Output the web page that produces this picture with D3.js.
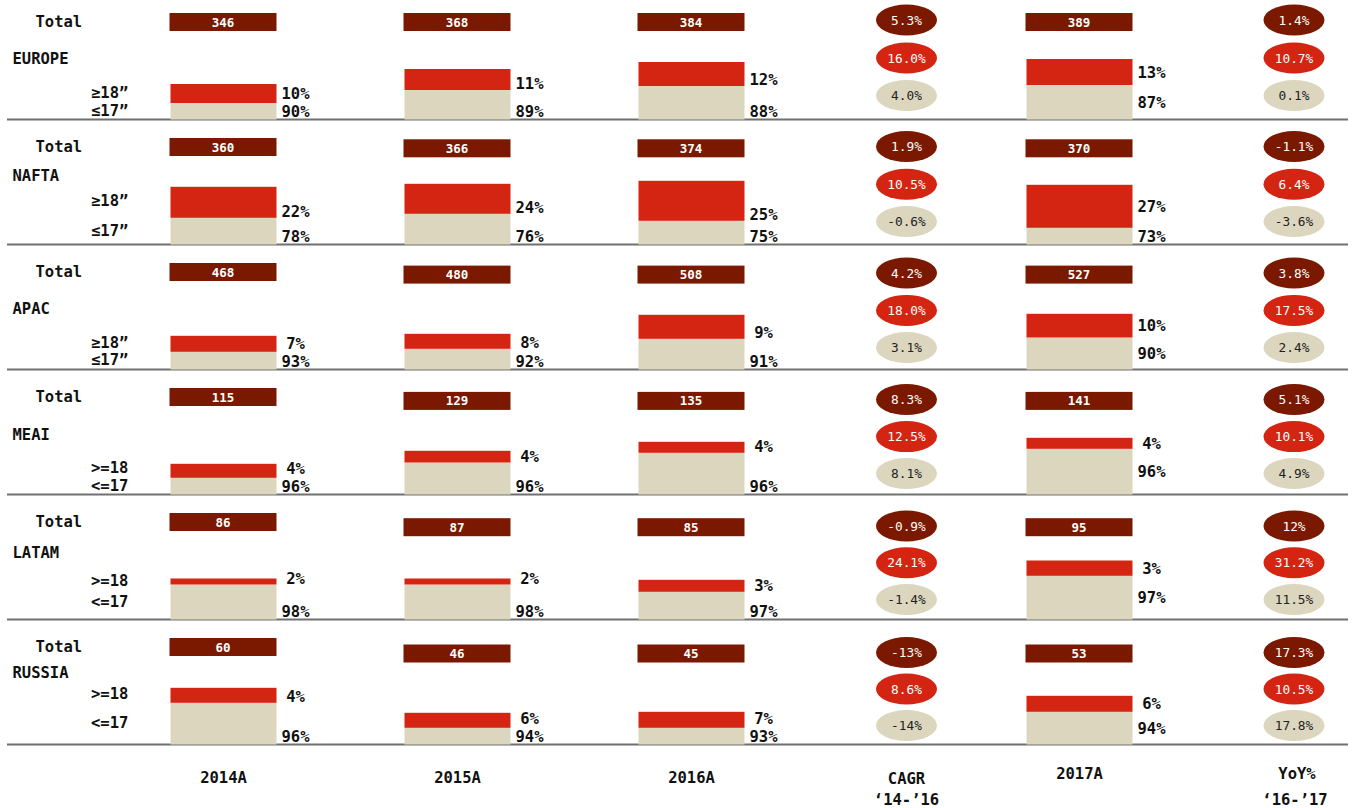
<!DOCTYPE html>
<html>
<head>
<meta charset="utf-8">
<script src="https://cdn.jsdelivr.net/npm/d3@7"></script>
<style>
  html, body { margin: 0; padding: 0; background: #fff; }
  svg { display: block; font-family: "DejaVu Sans Mono", monospace; }
</style>
</head>
<body>
<svg id="chart" width="1359" height="808"></svg>
<script>
// ---------- DATA ----------
const regions = ["EUROPE", "NAFTA", "APAC", "MEAI", "LATAM", "RUSSIA"];
const years = ["2014A", "2015A", "2016A", "2017A"];
const totals = [
  [346, 368, 384, 389],
  [360, 366, 374, 370],
  [468, 480, 508, 527],
  [115, 129, 135, 141],
  [86, 87, 85, 95],
  [60, 46, 45, 53]
];
const largeShare = [
  [10, 11, 12, 13],
  [22, 24, 25, 27],
  [7, 8, 9, 10],
  [4, 4, 4, 4],
  [2, 2, 3, 3],
  [4, 6, 7, 6]
];
const smallShare = [
  [90, 89, 88, 87],
  [78, 76, 75, 73],
  [93, 92, 91, 90],
  [96, 96, 96, 96],
  [98, 98, 97, 97],
  [96, 94, 93, 94]
];
// drawn segment heights (visual units)
const largeBarH = [
  [19, 21, 24, 26],
  [31, 30, 40, 43],
  [16, 15, 24, 23.7],
  [14, 11.7, 11, 11],
  [6, 6, 12, 15.3],
  [15, 15, 16, 16]
];
const smallBarH = [
  [16.5, 29.5, 33.5, 34.5],
  [26.7, 30.7, 23.7, 16.7],
  [17.7, 20.7, 30.7, 32],
  [16.7, 32, 41.7, 45.7],
  [35, 35, 27.7, 43.7],
  [41.7, 16.7, 16.7, 32.7]
];
const largeLabel = ["≥18”", "≥18”", "≥18”", ">=18", ">=18", ">=18"];
const smallLabel = ["≤17”", "≤17”", "≤17”", "<=17", "<=17", "<=17"];
const cagrTotal = ["5.3%", "1.9%", "4.2%", "8.3%", "-0.9%", "-13%"];
const cagrLarge = ["16.0%", "10.5%", "18.0%", "12.5%", "24.1%", "8.6%"];
const cagrSmall = ["4.0%", "-0.6%", "3.1%", "8.1%", "-1.4%", "-14%"];
const yoyTotal = ["1.4%", "-1.1%", "3.8%", "5.1%", "12%", "17.3%"];
const yoyLarge = ["10.7%", "6.4%", "17.5%", "10.1%", "31.2%", "10.5%"];
const yoySmall = ["0.1%", "-3.6%", "2.4%", "4.9%", "11.5%", "17.8%"];
const columns = ["2014A", "2015A", "2016A", "CAGR", "2017A", "YoY"];

// ---------- STYLE ----------
const C_TOTAL = "#7a1900";
const C_LARGE = "#d42412";
const C_SMALL = "#dcd6be";
const C_LINE = "#707070";
const C_TEXT = "#111111";
const MIN_SEP = 17.5;

const svg = d3.select("#chart");

// ---------- SCALES ----------
const xCol = d3.scaleOrdinal().domain(columns).range([223.5, 457.5, 691.5, 906.5, 1079.5, 1294]);
const yRow = d3.scaleBand().domain(regions).range([-5.5, 744.5]).paddingInner(0).paddingOuter(0);
const hScale = d3.scaleLinear().domain([0, 50]).range([0, 50]);
const barW = 106;
const base = r => yRow(r) + yRow.bandwidth();

// ---------- ROWS ----------
regions.forEach((reg, i) => {
  const g = svg.append("g");
  const yb = base(reg);

  // separator line
  g.append("line")
    .attr("x1", 7).attr("x2", 1348)
    .attr("y1", yb).attr("y2", yb)
    .attr("stroke", C_LINE).attr("stroke-width", 1.8);

  years.forEach((yr, j) => {
    const cx = xCol(yr);
    const hS = hScale(smallBarH[i][j]);
    const hL = hScale(largeBarH[i][j]);
    const split = yb - hS;

    // stacked bar
    g.append("rect").attr("x", cx - barW / 2).attr("y", split)
      .attr("width", barW).attr("height", hS).attr("fill", C_SMALL);
    g.append("rect").attr("x", cx - barW / 2).attr("y", split - hL)
      .attr("width", barW).attr("height", hL).attr("fill", C_LARGE);

    // total bar
    const lift = 106.5 - (j > 0 ? 1.3 * i : 0);
    g.append("rect").attr("x", cx - barW / 2 - 1).attr("y", yb - lift)
      .attr("width", barW + 1).attr("height", 18).attr("fill", C_TOTAL);
    g.append("text").attr("x", cx - 0.5).attr("y", yb - lift + 9)
      .attr("dy", "0.36em").attr("text-anchor", "middle")
      .attr("fill", "#fff").attr("font-weight", "bold").attr("font-size", 12.5)
      .text(totals[i][j]);

    // share labels (baselines)
    const lx = cx + barW / 2 + 19;
    let yUp, yLo;
    if (j < 3) {
      yLo = yb - 3;
      yUp = split - 1;
    } else {
      yLo = yb - hS / 2 + 5.5;
      yUp = split - hL / 2 + 5.5;
    }
    yUp = Math.min(yUp, yLo - MIN_SEP);
    g.append("text").attr("x", lx).attr("y", yUp)
      .attr("text-anchor", "middle").attr("font-weight", "bold")
      .attr("font-size", 15.5).attr("fill", C_TEXT)
      .text(largeShare[i][j] + "%");
    g.append("text").attr("x", lx).attr("y", yLo)
      .attr("text-anchor", "middle").attr("font-weight", "bold")
      .attr("font-size", 15.5).attr("fill", C_TEXT)
      .text(smallShare[i][j] + "%");
  });

  // left labels (centres)
  const hL0 = hScale(largeBarH[i][0]);
  const hS0 = hScale(smallBarH[i][0]);
  const ySmallLbl = yb - hS0 / 2 - 1;
  const yLargeLbl = Math.min(yb - hS0 - hL0 / 2 - 1.5, ySmallLbl - MIN_SEP);
  const yTotalLbl = yb - 98;
  const yRegionLbl = (yTotalLbl + yLargeLbl) / 2 + 2;

  const lbl = (x, y, t) => g.append("text").attr("x", x).attr("y", y).attr("dy", "0.36em")
    .attr("font-weight", "bold").attr("font-size", 15.5).attr("fill", C_TEXT).text(t);
  lbl(35.5, yTotalLbl, "Total");
  lbl(12.5, yRegionLbl, reg);
  lbl(91, yLargeLbl, largeLabel[i]);
  lbl(91, ySmallLbl, smallLabel[i]);

  // growth ellipses
  const ellY = [20 + 126.5 * i, 58 + 126.2 * i, 95.5 + 126 * i];
  const fills = [C_TOTAL, C_LARGE, C_SMALL];
  const tcol = ["#fff", "#fff", "#222"];
  const cagr = [cagrTotal[i], cagrLarge[i], cagrSmall[i]];
  const yoy = [yoyTotal[i], yoyLarge[i], yoySmall[i]];
  [["CAGR", cagr], ["YoY", yoy]].forEach(([col, vals]) => {
    vals.forEach((v, k) => {
      g.append("ellipse").attr("cx", xCol(col)).attr("cy", ellY[k])
        .attr("rx", 30.5).attr("ry", 15.5).attr("fill", fills[k]);
      g.append("text").attr("x", xCol(col)).attr("y", ellY[k]).attr("dy", "0.36em")
        .attr("text-anchor", "middle").attr("font-size", 12.8)
        .attr("fill", tcol[k]).text(v);
    });
  });
});

// ---------- BOTTOM AXIS LABELS ----------
const bottom = svg.append("g").attr("font-weight", "bold").attr("font-size", 15.5)
  .attr("fill", C_TEXT).attr("text-anchor", "middle");
years.forEach((yr, j) => {
  bottom.append("text").attr("x", xCol(yr)).attr("y", j < 3 ? 782.5 : 778.5).text(yr);
});
bottom.append("text").attr("x", xCol("CAGR")).attr("y", 783.5).text("CAGR");
bottom.append("text").attr("x", xCol("CAGR")).attr("y", 804.5).text("‘14-’16");
bottom.append("text").attr("x", xCol("YoY") + 3).attr("y", 778.5).text("YoY%");
bottom.append("text").attr("x", xCol("YoY") + 1).attr("y", 804.5).text("‘16-’17");
</script>
</body>
</html>
